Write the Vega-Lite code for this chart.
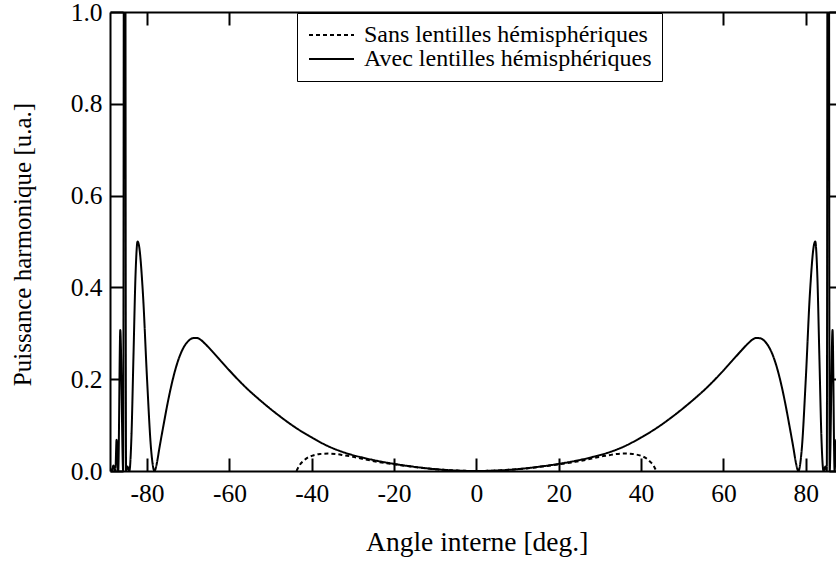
{
  "$schema": "https://vega.github.io/schema/vega-lite/v6.json",
  "width": 726,
  "height": 459,
  "autosize": {"type": "none"},
  "padding": {"left": 110, "top": 12, "right": 0, "bottom": 92},
  "background": "white",
  "config": {
    "view": {"stroke": null},
    "font": "Liberation Serif",
    "style": {"guide-label": {"font": "Liberation Serif"}, "guide-title": {"font": "Liberation Serif"}},
    "axis": {
      "domainColor": "black", "domainWidth": 2, "tickColor": "black", "tickWidth": 2,
      "tickSize": -13, "grid": false, "labelFont": "Liberation Serif", "labelFontSize": 25.5,
      "labelColor": "black", "titleFont": "Liberation Serif", "titleFontSize": 26,
      "titleFontWeight": "normal", "titleColor": "black", "labelFlush": false
    }
  },
  "datasets": {
    "d": [
      {"x": -89, "y": 0, "s": "Avec lentilles hémisphériques"},
      {"x": -88.8, "y": 0.004, "s": "Avec lentilles hémisphériques"},
      {"x": -88.5, "y": 0, "s": "Avec lentilles hémisphériques"},
      {"x": -88.2, "y": 0.012, "s": "Avec lentilles hémisphériques"},
      {"x": -87.7, "y": 0, "s": "Avec lentilles hémisphériques"},
      {"x": -87.4, "y": 0.068, "s": "Avec lentilles hémisphériques"},
      {"x": -87, "y": 0, "s": "Avec lentilles hémisphériques"},
      {"x": -86.5, "y": 0.307, "s": "Avec lentilles hémisphériques"},
      {"x": -85.8, "y": 0, "s": "Avec lentilles hémisphériques"},
      {"x": -85.45, "y": 3, "s": "Avec lentilles hémisphériques"},
      {"x": -85.1, "y": 0, "s": "Avec lentilles hémisphériques"},
      {"x": -84.8, "y": 0.01, "s": "Avec lentilles hémisphériques"},
      {"x": -84.3, "y": 0, "s": "Avec lentilles hémisphériques"},
      {"x": -83.8, "y": 0.073, "s": "Avec lentilles hémisphériques"},
      {"x": -83.3, "y": 0.25, "s": "Avec lentilles hémisphériques"},
      {"x": -82.8, "y": 0.427, "s": "Avec lentilles hémisphériques"},
      {"x": -82.3, "y": 0.5, "s": "Avec lentilles hémisphériques"},
      {"x": -82, "y": 0.493, "s": "Avec lentilles hémisphériques"},
      {"x": -81, "y": 0.386, "s": "Avec lentilles hémisphériques"},
      {"x": -80, "y": 0.2, "s": "Avec lentilles hémisphériques"},
      {"x": -79, "y": 0.045, "s": "Avec lentilles hémisphériques"},
      {"x": -78.2, "y": 0, "s": "Avec lentilles hémisphériques"},
      {"x": -78, "y": 0.003, "s": "Avec lentilles hémisphériques"},
      {"x": -77.6, "y": 0.018, "s": "Avec lentilles hémisphériques"},
      {"x": -77, "y": 0.05, "s": "Avec lentilles hémisphériques"},
      {"x": -76, "y": 0.1, "s": "Avec lentilles hémisphériques"},
      {"x": -75, "y": 0.148, "s": "Avec lentilles hémisphériques"},
      {"x": -74, "y": 0.19, "s": "Avec lentilles hémisphériques"},
      {"x": -73, "y": 0.225, "s": "Avec lentilles hémisphériques"},
      {"x": -72, "y": 0.252, "s": "Avec lentilles hémisphériques"},
      {"x": -71, "y": 0.271, "s": "Avec lentilles hémisphériques"},
      {"x": -70, "y": 0.283, "s": "Avec lentilles hémisphériques"},
      {"x": -69, "y": 0.289, "s": "Avec lentilles hémisphériques"},
      {"x": -68, "y": 0.29, "s": "Avec lentilles hémisphériques"},
      {"x": -67, "y": 0.286, "s": "Avec lentilles hémisphériques"},
      {"x": -66, "y": 0.278, "s": "Avec lentilles hémisphériques"},
      {"x": -64, "y": 0.259, "s": "Avec lentilles hémisphériques"},
      {"x": -62, "y": 0.239, "s": "Avec lentilles hémisphériques"},
      {"x": -60, "y": 0.219, "s": "Avec lentilles hémisphériques"},
      {"x": -56, "y": 0.182, "s": "Avec lentilles hémisphériques"},
      {"x": -52, "y": 0.15, "s": "Avec lentilles hémisphériques"},
      {"x": -48, "y": 0.121, "s": "Avec lentilles hémisphériques"},
      {"x": -44, "y": 0.095, "s": "Avec lentilles hémisphériques"},
      {"x": -40, "y": 0.073, "s": "Avec lentilles hémisphériques"},
      {"x": -36, "y": 0.054, "s": "Avec lentilles hémisphériques"},
      {"x": -32, "y": 0.04, "s": "Avec lentilles hémisphériques"},
      {"x": -28, "y": 0.03, "s": "Avec lentilles hémisphériques"},
      {"x": -24, "y": 0.022, "s": "Avec lentilles hémisphériques"},
      {"x": -20, "y": 0.0155, "s": "Avec lentilles hémisphériques"},
      {"x": -16, "y": 0.0102, "s": "Avec lentilles hémisphériques"},
      {"x": -12, "y": 0.0058, "s": "Avec lentilles hémisphériques"},
      {"x": -8, "y": 0.0026, "s": "Avec lentilles hémisphériques"},
      {"x": -4, "y": 0.0007, "s": "Avec lentilles hémisphériques"},
      {"x": 0, "y": 0, "s": "Avec lentilles hémisphériques"},
      {"x": 4, "y": 0.0007, "s": "Avec lentilles hémisphériques"},
      {"x": 8, "y": 0.0026, "s": "Avec lentilles hémisphériques"},
      {"x": 12, "y": 0.0058, "s": "Avec lentilles hémisphériques"},
      {"x": 16, "y": 0.0102, "s": "Avec lentilles hémisphériques"},
      {"x": 20, "y": 0.0155, "s": "Avec lentilles hémisphériques"},
      {"x": 24, "y": 0.022, "s": "Avec lentilles hémisphériques"},
      {"x": 28, "y": 0.03, "s": "Avec lentilles hémisphériques"},
      {"x": 32, "y": 0.04, "s": "Avec lentilles hémisphériques"},
      {"x": 36, "y": 0.054, "s": "Avec lentilles hémisphériques"},
      {"x": 40, "y": 0.073, "s": "Avec lentilles hémisphériques"},
      {"x": 44, "y": 0.095, "s": "Avec lentilles hémisphériques"},
      {"x": 48, "y": 0.121, "s": "Avec lentilles hémisphériques"},
      {"x": 52, "y": 0.15, "s": "Avec lentilles hémisphériques"},
      {"x": 56, "y": 0.182, "s": "Avec lentilles hémisphériques"},
      {"x": 60, "y": 0.219, "s": "Avec lentilles hémisphériques"},
      {"x": 62, "y": 0.239, "s": "Avec lentilles hémisphériques"},
      {"x": 64, "y": 0.259, "s": "Avec lentilles hémisphériques"},
      {"x": 66, "y": 0.278, "s": "Avec lentilles hémisphériques"},
      {"x": 67, "y": 0.286, "s": "Avec lentilles hémisphériques"},
      {"x": 68, "y": 0.29, "s": "Avec lentilles hémisphériques"},
      {"x": 69, "y": 0.289, "s": "Avec lentilles hémisphériques"},
      {"x": 70, "y": 0.283, "s": "Avec lentilles hémisphériques"},
      {"x": 71, "y": 0.271, "s": "Avec lentilles hémisphériques"},
      {"x": 72, "y": 0.252, "s": "Avec lentilles hémisphériques"},
      {"x": 73, "y": 0.225, "s": "Avec lentilles hémisphériques"},
      {"x": 74, "y": 0.19, "s": "Avec lentilles hémisphériques"},
      {"x": 75, "y": 0.148, "s": "Avec lentilles hémisphériques"},
      {"x": 76, "y": 0.1, "s": "Avec lentilles hémisphériques"},
      {"x": 77, "y": 0.05, "s": "Avec lentilles hémisphériques"},
      {"x": 77.6, "y": 0.018, "s": "Avec lentilles hémisphériques"},
      {"x": 78, "y": 0.003, "s": "Avec lentilles hémisphériques"},
      {"x": 78.2, "y": 0, "s": "Avec lentilles hémisphériques"},
      {"x": 79, "y": 0.045, "s": "Avec lentilles hémisphériques"},
      {"x": 80, "y": 0.2, "s": "Avec lentilles hémisphériques"},
      {"x": 81, "y": 0.386, "s": "Avec lentilles hémisphériques"},
      {"x": 82, "y": 0.493, "s": "Avec lentilles hémisphériques"},
      {"x": 82.3, "y": 0.5, "s": "Avec lentilles hémisphériques"},
      {"x": 82.8, "y": 0.427, "s": "Avec lentilles hémisphériques"},
      {"x": 83.3, "y": 0.25, "s": "Avec lentilles hémisphériques"},
      {"x": 83.8, "y": 0.073, "s": "Avec lentilles hémisphériques"},
      {"x": 84.3, "y": 0, "s": "Avec lentilles hémisphériques"},
      {"x": 84.8, "y": 0.01, "s": "Avec lentilles hémisphériques"},
      {"x": 85.1, "y": 0, "s": "Avec lentilles hémisphériques"},
      {"x": 85.45, "y": 3, "s": "Avec lentilles hémisphériques"},
      {"x": 85.8, "y": 0, "s": "Avec lentilles hémisphériques"},
      {"x": 86.5, "y": 0.307, "s": "Avec lentilles hémisphériques"},
      {"x": 87, "y": 0, "s": "Avec lentilles hémisphériques"},
      {"x": 87.4, "y": 0.068, "s": "Avec lentilles hémisphériques"},
      {"x": 87.7, "y": 0, "s": "Avec lentilles hémisphériques"},
      {"x": 88.2, "y": 0.012, "s": "Avec lentilles hémisphériques"},
      {"x": 88.5, "y": 0, "s": "Avec lentilles hémisphériques"},
      {"x": 88.8, "y": 0.004, "s": "Avec lentilles hémisphériques"},
      {"x": 89, "y": 0, "s": "Avec lentilles hémisphériques"},
      {"x": -43.7, "y": 0, "s": "Sans lentilles hémisphériques"},
      {"x": -43, "y": 0.012, "s": "Sans lentilles hémisphériques"},
      {"x": -42, "y": 0.022, "s": "Sans lentilles hémisphériques"},
      {"x": -41, "y": 0.029, "s": "Sans lentilles hémisphériques"},
      {"x": -40, "y": 0.033, "s": "Sans lentilles hémisphériques"},
      {"x": -38, "y": 0.037, "s": "Sans lentilles hémisphériques"},
      {"x": -36, "y": 0.038, "s": "Sans lentilles hémisphériques"},
      {"x": -34, "y": 0.037, "s": "Sans lentilles hémisphériques"},
      {"x": -32, "y": 0.034, "s": "Sans lentilles hémisphériques"},
      {"x": -30, "y": 0.031, "s": "Sans lentilles hémisphériques"},
      {"x": -28, "y": 0.027, "s": "Sans lentilles hémisphériques"},
      {"x": -24, "y": 0.02, "s": "Sans lentilles hémisphériques"},
      {"x": -20, "y": 0.0145, "s": "Sans lentilles hémisphériques"},
      {"x": -16, "y": 0.0098, "s": "Sans lentilles hémisphériques"},
      {"x": -12, "y": 0.0056, "s": "Sans lentilles hémisphériques"},
      {"x": -8, "y": 0.0025, "s": "Sans lentilles hémisphériques"},
      {"x": -4, "y": 0.0007, "s": "Sans lentilles hémisphériques"},
      {"x": 0, "y": 0, "s": "Sans lentilles hémisphériques"},
      {"x": 4, "y": 0.0007, "s": "Sans lentilles hémisphériques"},
      {"x": 8, "y": 0.0025, "s": "Sans lentilles hémisphériques"},
      {"x": 12, "y": 0.0056, "s": "Sans lentilles hémisphériques"},
      {"x": 16, "y": 0.0098, "s": "Sans lentilles hémisphériques"},
      {"x": 20, "y": 0.0145, "s": "Sans lentilles hémisphériques"},
      {"x": 24, "y": 0.02, "s": "Sans lentilles hémisphériques"},
      {"x": 28, "y": 0.027, "s": "Sans lentilles hémisphériques"},
      {"x": 30, "y": 0.031, "s": "Sans lentilles hémisphériques"},
      {"x": 32, "y": 0.034, "s": "Sans lentilles hémisphériques"},
      {"x": 34, "y": 0.037, "s": "Sans lentilles hémisphériques"},
      {"x": 36, "y": 0.038, "s": "Sans lentilles hémisphériques"},
      {"x": 38, "y": 0.037, "s": "Sans lentilles hémisphériques"},
      {"x": 40, "y": 0.033, "s": "Sans lentilles hémisphériques"},
      {"x": 41, "y": 0.029, "s": "Sans lentilles hémisphériques"},
      {"x": 42, "y": 0.022, "s": "Sans lentilles hémisphériques"},
      {"x": 43, "y": 0.012, "s": "Sans lentilles hémisphériques"},
      {"x": 43.7, "y": 0, "s": "Sans lentilles hémisphériques"}
    ]
  },
  "data": {"name": "d"},
  "layer": [
    {
      "mark": {"type": "line", "clip": true, "strokeWidth": 2, "color": "black", "interpolate": "monotone"},
      "encoding": {
        "x": {
          "field": "x", "type": "quantitative",
          "scale": {"domain": [-89, 87.34], "nice": false, "zero": false},
          "axis": {"orient": "bottom", "values": [-80, -60, -40, -20, 0, 20, 40, 60, 80], "labelPadding": 23,
                   "labelFont": "Liberation Serif", "labelExpr": "toString(datum.value)",
                   "title": "Angle interne [deg.]", "titleFont": "Liberation Serif", "titleFontSize": 27.5, "titleX": 366.7, "titleY": 79, "titleBaseline": "alphabetic", "titleAnchor": "middle", "titleAlign": "center"}
        },
        "y": {
          "field": "y", "type": "quantitative",
          "scale": {"domain": [0, 1], "nice": false, "zero": false},
          "axis": {"orient": "left", "values": [0, 0.2, 0.4, 0.6, 0.8, 1.0], "format": ".1f", "labelPadding": 21,
                   "labelFont": "Liberation Serif",
                   "title": "Puissance harmonique [u.a.]", "titleFont": "Liberation Serif", "titleFontSize": 25, "titleX": -88, "titleY": 232, "titleBaseline": "middle", "titleAngle": -90, "titleAlign": "center"}
        },
        "strokeDash": {
          "field": "s", "type": "nominal",
          "scale": {"domain": ["Sans lentilles hémisphériques", "Avec lentilles hémisphériques"], "range": [[4, 3], [1, 0]]},
          "legend": {
            "orient": "none", "legendX": 187, "legendY": 1, "title": null, "direction": "vertical",
            "labelFont": "Liberation Serif", "labelFontSize": 24, "labelColor": "black", "labelOffset": 33, "labelLimit": 500,
            "symbolType": "M-1,0H3.5", "symbolSize": 400, "symbolStrokeWidth": 2, "symbolStrokeColor": "black",
            "padding": 10, "rowPadding": 0, "strokeColor": "black", "fillColor": "white"
          }
        }
      }
    },
    {
      "mark": {"type": "line", "opacity": 0},
      "encoding": {
        "x": {
          "field": "x", "type": "quantitative",
          "axis": {"orient": "top", "values": [-80, -60, -40, -20, 0, 20, 40, 60, 80], "labels": false, "title": null}
        },
        "y": {
          "field": "y", "type": "quantitative",
          "axis": {"orient": "right", "values": [0, 0.2, 0.4, 0.6, 0.8, 1.0], "labels": false, "title": null, "domain": false, "tickSize": -7}
        }
      }
    }
  ],
  "resolve": {"axis": {"x": "independent", "y": "independent"}}
}
